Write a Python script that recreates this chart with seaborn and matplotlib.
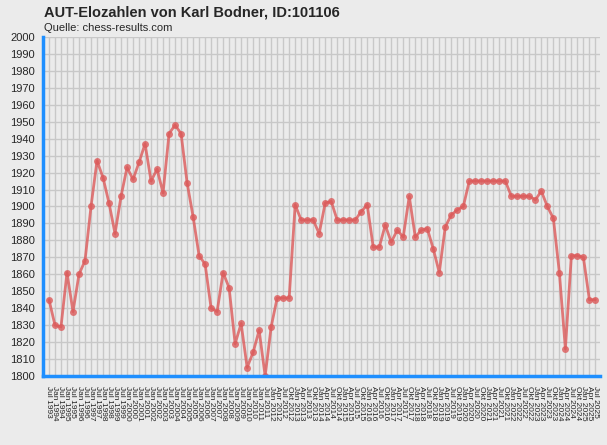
import matplotlib
matplotlib.use("Agg")
import matplotlib.pyplot as plt
import seaborn as sns
import pandas as pd
import numpy as np

# =========================
# DATA
# =========================

# semiannual lists Jul 1993 .. Jul 2011, then quarterly Jan 2012 .. Jul 2025
semi_months = ["Jul", "Jan"]
quarter_months = ["Jan", "Apr", "Jul", "Okt"]

dates = []
for i in range(37):
    y = 1993 + (i + 1) // 2
    dates.append(f"{semi_months[i % 2]} {y}")
for i in range(55):
    y = 2012 + i // 4
    dates.append(f"{quarter_months[i % 4]} {y}")

elo = [
    1845, 1830, 1829, 1861, 1838, 1860, 1868, 1900, 1927, 1917,
    1902, 1884, 1906, 1923, 1916, 1926, 1937, 1915, 1922, 1908,
    1943, 1948, 1943, 1914, 1894, 1871, 1866, 1840, 1838, 1861,
    1852, 1819, 1831, 1805, 1814, 1827, 1800, 1829, 1846, 1846,
    1846, 1901, 1892, 1892, 1892, 1884, 1902, 1903, 1892, 1892,
    1892, 1892, 1897, 1901, 1876, 1876, 1889, 1879, 1886, 1882,
    1906, 1882, 1886, 1887, 1875, 1861, 1888, 1895, 1898, 1900,
    1915, 1915, 1915, 1915, 1915, 1915, 1915, 1906, 1906, 1906,
    1906, 1904, 1909, 1900, 1893, 1861, 1816, 1871, 1871, 1870,
    1845, 1845,
]

df = pd.DataFrame({"idx": np.arange(len(elo)), "date": dates, "elo": elo})

# =========================
# STYLE
# =========================

bg = "#ebebeb"
blue = "#1e8fff"

sns.set_style("whitegrid", {
    "axes.facecolor": bg,
    "figure.facecolor": bg,
    "grid.color": "#c8c8c8",
    "axes.edgecolor": blue,
})
plt.rcParams["font.family"] = ["Liberation Sans", "DejaVu Sans"]

fig = plt.figure(figsize=(6.07, 4.45), dpi=100)
ax = fig.add_axes([0.0708, 0.155, 0.918, 0.762])

sns.lineplot(
    data=df, x="idx", y="elo", ax=ax,
    color="#dc5a5a", alpha=0.8, linewidth=2,
    marker="o", markersize=5, markeredgewidth=0,
)

ax.set_xlim(-1, len(elo) - 0.2)
ax.set_ylim(1800, 2000)
ax.set_yticks(np.arange(1800, 2001, 10))
ax.set_xticks(df["idx"])
ax.set_xticklabels(df["date"], rotation=-90, fontsize=6)
ax.tick_params(axis="y", labelsize=8, length=5, width=2.5, color=blue, pad=1)
ax.tick_params(axis="x", length=5, width=2, color=blue, pad=2)
ax.grid(True, linewidth=1.0)

for s in ["top", "right"]:
    ax.spines[s].set_visible(False)
ax.spines["left"].set_linewidth(2.5)
ax.spines["bottom"].set_linewidth(2.5)
ax.set_xlabel("")
ax.set_ylabel("")

fig.text(0.072, 0.972, "AUT-Elozahlen von Karl Bodner, ID:101106",
         fontsize=10.5, fontweight="bold", va="center")
fig.text(0.072, 0.938, "Quelle: chess-results.com", fontsize=8, va="center")

fig.savefig("out.png", dpi=100, facecolor=bg)
